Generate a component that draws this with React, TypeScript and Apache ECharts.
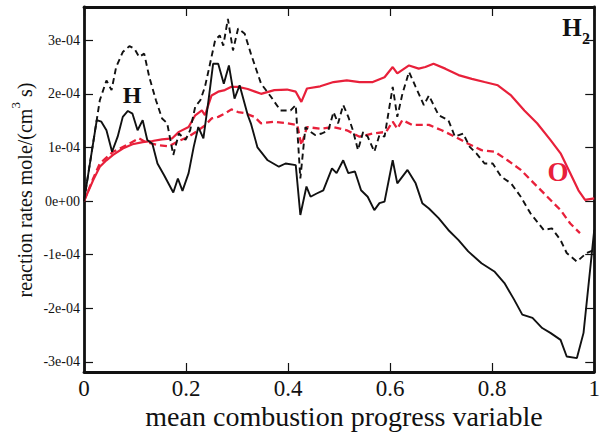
import React, { useEffect, useRef } from 'react';
import * as echarts from 'echarts';

const xTickValues = [0, 0.2, 0.4, 0.6, 0.8, 1];
const yTickValues = [-3e-4, -2e-4, -1e-4, 0, 1e-4, 2e-4, 3e-4];
const yTickLabels = ['-3e-04', '-2e-04', '-1e-04', '0e+00', '1e-04', '2e-04', '3e-04'];

// H, solid black
const hSolidX = [0, 0.025, 0.034, 0.044, 0.055, 0.066, 0.076, 0.086, 0.095, 0.105, 0.115, 0.124, 0.134, 0.144, 0.157, 0.175, 0.184, 0.193, 0.205, 0.215, 0.224, 0.234, 0.244, 0.253, 0.263, 0.274, 0.284, 0.295, 0.305, 0.321, 0.327, 0.340, 0.360, 0.382, 0.395, 0.415, 0.424, 0.436, 0.444, 0.456, 0.469, 0.486, 0.495, 0.508, 0.518, 0.531, 0.543, 0.556, 0.569, 0.579, 0.589, 0.605, 0.614, 0.634, 0.650, 0.663, 0.676, 0.695, 0.714, 0.734, 0.753, 0.779, 0.805, 0.824, 0.843, 0.859, 0.879, 0.898, 0.914, 0.934, 0.946, 0.966, 0.979, 1.0];
const hSolidY = [0, 1.51e-4, 1.48e-4, 1.32e-4, 0.92e-4, 1.2e-4, 1.57e-4, 1.68e-4, 1.63e-4, 1.32e-4, 1.51e-4, 1.14e-4, 1.07e-4, 0.7e-4, 0.48e-4, 0.16e-4, 0.42e-4, 0.19e-4, 0.52e-4, 1.01e-4, 1.38e-4, 1.17e-4, 1.88e-4, 2.56e-4, 2.56e-4, 2.19e-4, 2.53e-4, 1.91e-4, 2.16e-4, 1.6e-4, 1.45e-4, 1.0e-4, 0.76e-4, 0.64e-4, 0.7e-4, 0.67e-4, -0.26e-4, 0.27e-4, 0.08e-4, 0.14e-4, 0.2e-4, 0.61e-4, 0.52e-4, 0.76e-4, 0.52e-4, 0.55e-4, 0.2e-4, 0.08e-4, -0.17e-4, -0.04e-4, -0.01e-4, 0.76e-4, 0.33e-4, 0.58e-4, 0.33e-4, -0.04e-4, -0.14e-4, -0.32e-4, -0.54e-4, -0.73e-4, -0.94e-4, -1.16e-4, -1.32e-4, -1.53e-4, -1.84e-4, -2.12e-4, -2.18e-4, -2.37e-4, -2.46e-4, -2.59e-4, -2.9e-4, -2.93e-4, -2.46e-4, -0.54e-4];

// H, dashed black
const hDashX = [0, 0.031, 0.044, 0.054, 0.063, 0.076, 0.089, 0.099, 0.108, 0.118, 0.128, 0.141, 0.153, 0.163, 0.175, 0.186, 0.199, 0.208, 0.218, 0.228, 0.237, 0.247, 0.257, 0.266, 0.273, 0.282, 0.292, 0.302, 0.315, 0.327, 0.347, 0.366, 0.385, 0.405, 0.415, 0.424, 0.434, 0.440, 0.453, 0.466, 0.479, 0.489, 0.498, 0.508, 0.518, 0.527, 0.537, 0.547, 0.556, 0.569, 0.579, 0.589, 0.605, 0.614, 0.624, 0.637, 0.650, 0.666, 0.676, 0.695, 0.714, 0.727, 0.743, 0.756, 0.769, 0.785, 0.801, 0.818, 0.837, 0.856, 0.875, 0.901, 0.917, 0.934, 0.946, 0.966, 0.985, 1.0];
const hDashY = [0, 1.88e-4, 2.25e-4, 2.07e-4, 2.5e-4, 2.78e-4, 2.89e-4, 2.84e-4, 2.69e-4, 2.75e-4, 2.31e-4, 1.88e-4, 1.54e-4, 1.45e-4, 0.86e-4, 1.26e-4, 1.14e-4, 1.32e-4, 1.76e-4, 1.88e-4, 2.13e-4, 2.56e-4, 3.0e-4, 3.09e-4, 2.9e-4, 3.4e-4, 2.81e-4, 3.22e-4, 3.12e-4, 2.75e-4, 2.19e-4, 1.95e-4, 1.69e-4, 1.69e-4, 1.79e-4, 0.42e-4, 1.38e-4, 1.32e-4, 1.23e-4, 1.26e-4, 1.32e-4, 1.66e-4, 1.45e-4, 1.79e-4, 1.57e-4, 1.32e-4, 0.95e-4, 1.29e-4, 1.2e-4, 0.92e-4, 1.23e-4, 1.2e-4, 2.13e-4, 1.57e-4, 2.0e-4, 2.41e-4, 2.13e-4, 1.79e-4, 1.97e-4, 1.6e-4, 1.51e-4, 1.2e-4, 1.26e-4, 1.01e-4, 0.89e-4, 0.7e-4, 0.7e-4, 0.45e-4, 0.33e-4, 0.08e-4, -0.23e-4, -0.54e-4, -0.51e-4, -0.73e-4, -0.97e-4, -1.13e-4, -0.97e-4, -0.91e-4];

// O, solid red
const oSolidX = [0, 0.018, 0.031, 0.044, 0.057, 0.076, 0.095, 0.115, 0.134, 0.153, 0.173, 0.186, 0.205, 0.218, 0.231, 0.237, 0.250, 0.263, 0.276, 0.289, 0.302, 0.321, 0.347, 0.373, 0.398, 0.415, 0.426, 0.437, 0.463, 0.489, 0.515, 0.540, 0.566, 0.589, 0.605, 0.614, 0.637, 0.656, 0.669, 0.685, 0.708, 0.734, 0.760, 0.785, 0.811, 0.837, 0.863, 0.888, 0.914, 0.934, 0.953, 0.969, 0.982, 1.0];
const oSolidY = [0, 0.39e-4, 0.64e-4, 0.76e-4, 0.86e-4, 0.98e-4, 1.06e-4, 1.1e-4, 1.12e-4, 1.15e-4, 1.17e-4, 1.29e-4, 1.38e-4, 1.6e-4, 1.69e-4, 1.6e-4, 1.97e-4, 2.04e-4, 2.07e-4, 2.13e-4, 2.13e-4, 2.09e-4, 2.0e-4, 2.07e-4, 2.08e-4, 2.04e-4, 1.85e-4, 2.1e-4, 2.14e-4, 2.22e-4, 2.25e-4, 2.22e-4, 2.22e-4, 2.31e-4, 2.5e-4, 2.38e-4, 2.53e-4, 2.47e-4, 2.5e-4, 2.56e-4, 2.47e-4, 2.35e-4, 2.28e-4, 2.22e-4, 2.16e-4, 1.97e-4, 1.69e-4, 1.45e-4, 1.14e-4, 0.89e-4, 0.52e-4, 0.2e-4, 0.02e-4, 0.05e-4];

// O, dashed red
const oDashX = [0, 0.018, 0.031, 0.057, 0.083, 0.108, 0.121, 0.147, 0.166, 0.186, 0.205, 0.224, 0.237, 0.250, 0.263, 0.276, 0.289, 0.302, 0.315, 0.334, 0.347, 0.373, 0.398, 0.418, 0.426, 0.437, 0.463, 0.489, 0.515, 0.540, 0.566, 0.592, 0.605, 0.614, 0.624, 0.643, 0.676, 0.701, 0.727, 0.753, 0.779, 0.805, 0.830, 0.856, 0.882, 0.908, 0.934, 0.953, 0.972];
const oDashY = [0, 0.42e-4, 0.7e-4, 0.92e-4, 1.04e-4, 1.17e-4, 1.1e-4, 1.04e-4, 1.02e-4, 1.12e-4, 1.2e-4, 1.32e-4, 1.41e-4, 1.54e-4, 1.57e-4, 1.63e-4, 1.71e-4, 1.66e-4, 1.64e-4, 1.57e-4, 1.45e-4, 1.48e-4, 1.45e-4, 1.42e-4, 1.04e-4, 1.38e-4, 1.35e-4, 1.38e-4, 1.32e-4, 1.2e-4, 1.26e-4, 1.29e-4, 1.48e-4, 1.35e-4, 1.51e-4, 1.42e-4, 1.42e-4, 1.32e-4, 1.2e-4, 1.07e-4, 0.95e-4, 0.92e-4, 0.76e-4, 0.58e-4, 0.33e-4, 0.08e-4, -0.17e-4, -0.42e-4, -0.6e-4];

const pairs = (xs: number[], ys: number[]) => xs.map((x, i) => [x, ys[i]]);

const SERIF = 'Liberation Serif';
const RED = '#e8203a';
const INK = '#111111';

export default function App() {
  const ref = useRef<HTMLDivElement>(null);
  useEffect(() => {
    document.body.style.margin = '0';
    if (!ref.current) return;
    const chart = echarts.init(ref.current, null, { renderer: 'svg' });
    const axisLine = { show: true, onZero: false, lineStyle: { color: INK, width: 2.8 } };
    const tick = { show: true, inside: true, length: 9, lineStyle: { color: INK, width: 1.2 } };
    const yLabel = (v: number) => {
      const i = yTickValues.findIndex((t) => Math.abs(t - v) < 1e-9);
      return i >= 0 ? yTickLabels[i] : '';
    };
    chart.setOption({
      animation: false,
      backgroundColor: '#ffffff',
      grid: { left: 84, right: 2, top: 7, bottom: 64, containLabel: false },
      xAxis: [
        {
          type: 'value', min: 0, max: 1, interval: 0.2, position: 'bottom',
          axisLine, axisTick: tick, splitLine: { show: false },
          axisLabel: { fontFamily: SERIF, fontSize: 23, color: INK, margin: 5, customValues: xTickValues },
        },
        {
          type: 'value', min: 0, max: 1, interval: 0.2, position: 'top',
          axisLine, axisTick: tick, splitLine: { show: false }, axisLabel: { show: false },
        },
      ],
      yAxis: [
        {
          type: 'value', min: -3.19e-4, max: 3.62e-4, position: 'left',
          axisLine, splitLine: { show: false },
          axisTick: { ...tick, customValues: yTickValues },
          axisLabel: { fontFamily: SERIF, fontSize: 14, color: INK, margin: 4, customValues: yTickValues, formatter: yLabel },
        },
        {
          type: 'value', min: -3.19e-4, max: 3.62e-4, position: 'right',
          axisLine, splitLine: { show: false },
          axisTick: { ...tick, customValues: yTickValues },
          axisLabel: { show: false },
        },
      ],
      series: [
        { type: 'line', name: 'O dashed', data: pairs(oDashX, oDashY), showSymbol: false, symbol: 'none', lineStyle: { color: RED, width: 2.3, type: [7, 4] } },
        { type: 'line', name: 'O solid', data: pairs(oSolidX, oSolidY), showSymbol: false, symbol: 'none', lineStyle: { color: RED, width: 2.2 } },
        { type: 'line', name: 'H dashed', data: pairs(hDashX, hDashY), showSymbol: false, symbol: 'none', lineStyle: { color: INK, width: 1.9, type: [6, 4] } },
        { type: 'line', name: 'H solid', data: pairs(hSolidX, hSolidY), showSymbol: false, symbol: 'none', lineStyle: { color: INK, width: 1.9 } },
      ],
      graphic: [
        { type: 'text', x: 132, y: 95, style: { text: 'H', fontFamily: SERIF, fontWeight: 'bold', fontSize: 24, fill: INK, align: 'center', verticalAlign: 'middle' } },
        { type: 'text', x: 572, y: 27, style: { text: 'H', fontFamily: SERIF, fontWeight: 'bold', fontSize: 25, fill: INK, align: 'center', verticalAlign: 'middle' } },
        { type: 'text', x: 586, y: 38, style: { text: '2', fontFamily: SERIF, fontWeight: 'bold', fontSize: 16, fill: INK, align: 'center', verticalAlign: 'middle' } },
        { type: 'text', x: 558, y: 172, style: { text: 'O', fontFamily: SERIF, fontWeight: 'bold', fontSize: 27, fill: RED, align: 'center', verticalAlign: 'middle' } },
        { type: 'text', x: 344, y: 416, style: { text: 'mean combustion progress variable', fontFamily: SERIF, fontSize: 28, fill: INK, align: 'center', verticalAlign: 'middle' } },
        {
          type: 'text', x: 22, y: 190, rotation: Math.PI / 2,
          style: {
            text: '{a|reaction rates mole/(cm}{s|3}{a| s)}',
            align: 'center', verticalAlign: 'middle', fill: INK,
            rich: {
              a: { fontFamily: SERIF, fontSize: 20, lineHeight: 26, color: INK, verticalAlign: 'bottom' },
              s: { fontFamily: SERIF, fontSize: 13, lineHeight: 26, color: INK, verticalAlign: 'top' },
            },
          },
        },
      ],
    });
    return () => chart.dispose();
  }, []);
  return <div ref={ref} style={{ width: 603, height: 436 }} />;
}
